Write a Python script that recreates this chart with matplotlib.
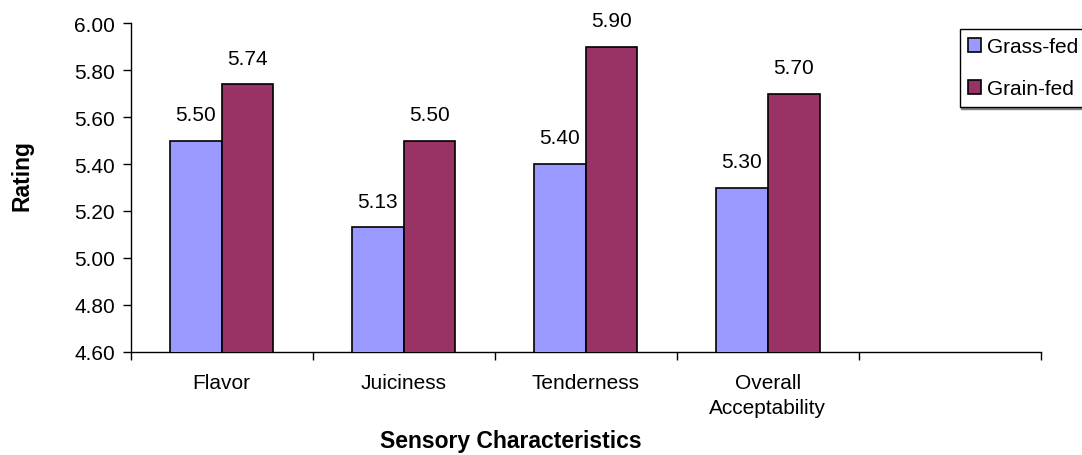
import numpy as np
import matplotlib
matplotlib.use("Agg")
import matplotlib.pyplot as plt
from matplotlib.ticker import FixedLocator, NullFormatter

plt.rcParams['font.family'] = ['Liberation Sans', 'DejaVu Sans']

# Data
categories = ["Flavor", "Juiciness", "Tenderness", "Overall\nAcceptability", ""]
grass_fed = [5.50, 5.13, 5.40, 5.30]
grain_fed = [5.74, 5.50, 5.90, 5.70]
yticks = [4.60, 4.80, 5.00, 5.20, 5.40, 5.60, 5.80, 6.00]

fig = plt.figure(figsize=(10.82, 4.56), dpi=100)
ax = fig.add_axes([130.5 / 1082, 1 - 352.7 / 456, (1040.7 - 130.5) / 1082, (352.7 - 24.3) / 456])

w = 0.285
x = np.arange(len(grass_fed))
b1 = ax.bar(x - w / 2, grass_fed, w, color="#9999FF", edgecolor="black", linewidth=1.2,
            label="Grass-fed", zorder=3)
b2 = ax.bar(x + w / 2, grain_fed, w, color="#993366", edgecolor="black", linewidth=1.2,
            label="Grain-fed", zorder=3)

for bars, vals in [(b1, grass_fed), (b2, grain_fed)]:
    for rect, v in zip(bars, vals):
        ax.annotate(f"{v:.2f}", (rect.get_x() + rect.get_width() / 2, v),
                    xytext=(0, 12), textcoords="offset points",
                    ha="center", va="bottom", fontsize=15)

ax.set_ylim(4.60, 6.00)
ax.set_xlim(-0.5, len(categories) - 0.5)
ax.set_yticks(yticks)
ax.set_yticklabels([f"{t:.2f}" for t in yticks], fontsize=15)
ax.set_xticks(np.arange(len(categories)))
ax.set_xticklabels(categories, fontsize=15, linespacing=1.45)
ax.tick_params(axis="x", which="major", length=0, pad=15)
ax.xaxis.set_minor_locator(FixedLocator(np.arange(len(categories) + 1) - 0.5))
ax.xaxis.set_minor_formatter(NullFormatter())
ax.tick_params(axis="x", which="minor", length=6, width=1, direction="out")
ax.tick_params(axis="y", length=6, width=1, direction="out", pad=5)

for s in ["top", "right"]:
    ax.spines[s].set_visible(False)
for s in ["left", "bottom"]:
    ax.spines[s].set_linewidth(1)

fig.text(511 / 1082, 1 - 442 / 456, "Sensory Characteristics", ha="center", va="center",
         fontsize=16.5, fontweight="bold")
fig.text(22 / 1082, 1 - 176 / 456, "Rating", ha="center", va="center", rotation=90,
         fontsize=16.5, fontweight="bold")

leg = fig.legend(loc="upper left", bbox_to_anchor=(960 / 1082, 1 - 30 / 456),
                 fontsize=15, frameon=True, fancybox=False, edgecolor="black",
                 handlelength=0.6, handleheight=0.6, handletextpad=0.3,
                 borderpad=0.4, labelspacing=1.1, borderaxespad=0,
                 shadow={"color": "gray", "alpha": 1, "ox": 1, "oy": -2})
leg.get_frame().set_linewidth(1)

fig.savefig("out.png", dpi=100)
